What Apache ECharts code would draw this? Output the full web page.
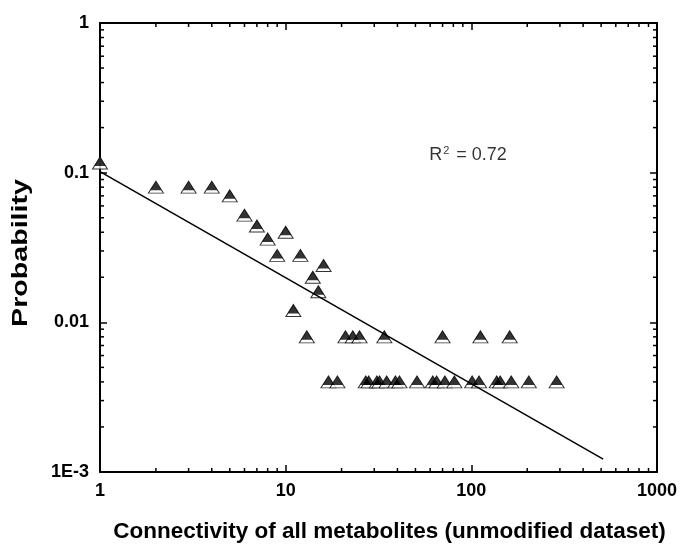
<!DOCTYPE html>
<html>
<head>
<meta charset="utf-8">
<script src="https://cdn.jsdelivr.net/npm/echarts@6/dist/echarts.min.js"></script>
<style>html,body{margin:0;padding:0;background:#fff}#c{width:684px;height:551px}</style>
</head>
<body>
<div id="c"></div>
<script>
// Degree-distribution data (connectivity k, probability P(k))
const degreeK = [1, 2, 3, 4, 5, 6, 7, 8, 9, 10, 11, 12, 13, 14, 15, 16,
  21, 23, 25, 34, 70, 112, 161,
  17, 19, 27, 28, 31, 32, 35, 39, 41, 51, 62, 65, 72, 81, 101, 110, 137, 143, 164, 204, 288];
const probP = [0.116, 0.08, 0.08, 0.08, 0.07, 0.052, 0.044, 0.036, 0.028, 0.04, 0.012, 0.028, 0.008, 0.02, 0.016, 0.024,
  0.008, 0.008, 0.008, 0.008, 0.008, 0.008, 0.008,
  0.004, 0.004, 0.004, 0.004, 0.004, 0.004, 0.004, 0.004, 0.004, 0.004, 0.004, 0.004, 0.004, 0.004, 0.004, 0.004, 0.004, 0.004, 0.004, 0.004, 0.004];
// Power-law fit line endpoints
const fitK = [1, 513];
const fitP = [0.1016, 0.00122];
const fitLabel = '0.72';
const fitLabelAt = [96, 0.131];
// Axis tick labels
const xTickLabels = {1: '1', 10: '10', 100: '100', 1000: '1000'};
const yTickLabels = {1: '1', 0.1: '0.1', 0.01: '0.01', 0.001: '1E-3'};
const xMinorTicks = [2,3,4,5,6,7,8,9,20,30,40,50,60,70,80,90,200,300,400,500,600,700,800,900];
const yMinorTicks = [0.002,0.003,0.004,0.005,0.006,0.007,0.008,0.009,0.02,0.03,0.04,0.05,0.06,0.07,0.08,0.09,0.2,0.3,0.4,0.5,0.6,0.7,0.8,0.9];

const FONT = '"Liberation Sans", Arial, sans-serif';
const points = degreeK.map((k, i) => [k, probP[i]]);
const fit = fitK.map((k, i) => [k, fitP[i]]);

function fmtLabel(map) {
  return function (v) {
    for (const key in map) { if (Math.abs(Math.log10(v) - Math.log10(+key)) < 1e-6) return map[key]; }
    return '';
  };
}
const axisCommon = {
  type: 'log', logBase: 10,
  axisLine: { show: true, onZero: false, lineStyle: { color: '#000', width: 2 } },
  axisTick: { show: true, inside: true, length: 7, lineStyle: { color: '#000', width: 1.5 } },
  splitLine: { show: false },
  minorTick: { show: false }
};

const chart = echarts.init(document.getElementById('c'));
chart.setOption({
  animation: false,
  grid: { left: 100, right: 27, top: 23, bottom: 79 },
  graphic: [{
    type: 'text', x: 21, y: 253, rotation: Math.PI / 2, scaleX: 1.3, silent: true,
    style: { text: 'Probability', align: 'center', verticalAlign: 'middle',
      font: 'bold 22px "Liberation Sans", Arial, sans-serif', fill: '#000' }
  }],
  xAxis: [
    Object.assign({}, axisCommon, {
      min: 1, max: 1000, position: 'bottom',
      name: 'Connectivity of all metabolites (unmodified dataset)',
      nameLocation: 'middle', nameGap: 48,
      nameTextStyle: { fontFamily: FONT, fontWeight: 'bold', fontSize: 22.5, color: '#000', padding: [0, 0, 0, 22] },
      axisLabel: { formatter: fmtLabel(xTickLabels), fontFamily: FONT, fontWeight: 'bold', fontSize: 18, color: '#000', margin: 10 }
    }),
    Object.assign({}, axisCommon, { min: 1, max: 1000, position: 'top', axisLabel: { show: false } })
  ],
  yAxis: [
    Object.assign({}, axisCommon, {
      min: 0.001, max: 1, position: 'left',
      axisLabel: { formatter: fmtLabel(yTickLabels), fontFamily: FONT, fontWeight: 'bold', fontSize: 18, color: '#000', margin: 11 }
    }),
    Object.assign({}, axisCommon, { min: 0.001, max: 1, position: 'right', axisLabel: { show: false } })
  ],
  series: [
    {
      type: 'custom', silent: true, coordinateSystem: 'cartesian2d',
      data: xMinorTicks.map(v => [v, 0.001]),
      renderItem: function (params, api) {
        const b = api.coord([api.value(0), 0.001]);
        const t = api.coord([api.value(0), 1]);
        const st = { stroke: '#000', lineWidth: 1.5 };
        return { type: 'group', children: [
          { type: 'line', shape: { x1: b[0], y1: b[1], x2: b[0], y2: b[1] - 4 }, style: st },
          { type: 'line', shape: { x1: t[0], y1: t[1], x2: t[0], y2: t[1] + 4 }, style: st }
        ]};
      }
    },
    {
      type: 'custom', silent: true, coordinateSystem: 'cartesian2d',
      data: yMinorTicks.map(v => [1, v]),
      renderItem: function (params, api) {
        const l = api.coord([1, api.value(1)]);
        const r = api.coord([1000, api.value(1)]);
        const st = { stroke: '#000', lineWidth: 1.5 };
        return { type: 'group', children: [
          { type: 'line', shape: { x1: l[0], y1: l[1], x2: l[0] + 4, y2: l[1] }, style: st },
          { type: 'line', shape: { x1: r[0], y1: r[1], x2: r[0] - 4, y2: r[1] }, style: st }
        ]};
      }
    },
    {
      type: 'line', data: fit, symbol: 'none', silent: true,
      lineStyle: { color: '#000', width: 1.5 }
    },
    {
      type: 'scatter', data: points, symbol: 'triangle', symbolSize: [15, 12],
      itemStyle: { color: '#fff', borderColor: '#000', borderWidth: 1 }
    },
    {
      type: 'scatter', data: points, symbol: 'triangle', symbolSize: [11.5, 9], symbolOffset: [0, -1.5],
      itemStyle: { color: '#000' }
    },
    {
      type: 'scatter', data: [fitLabelAt], symbolSize: 0, silent: true,
      label: {
        show: true, position: 'inside',
        formatter: '{r|R}{s|2}{r| = ' + fitLabel + '}',
        rich: {
          r: { fontFamily: FONT, fontSize: 18, color: '#000' },
          s: { fontFamily: FONT, fontSize: 11, color: '#000', verticalAlign: 'top', padding: [0, 2, 9, 1] }
        }
      }
    }
  ]
});
</script>
</body>
</html>
